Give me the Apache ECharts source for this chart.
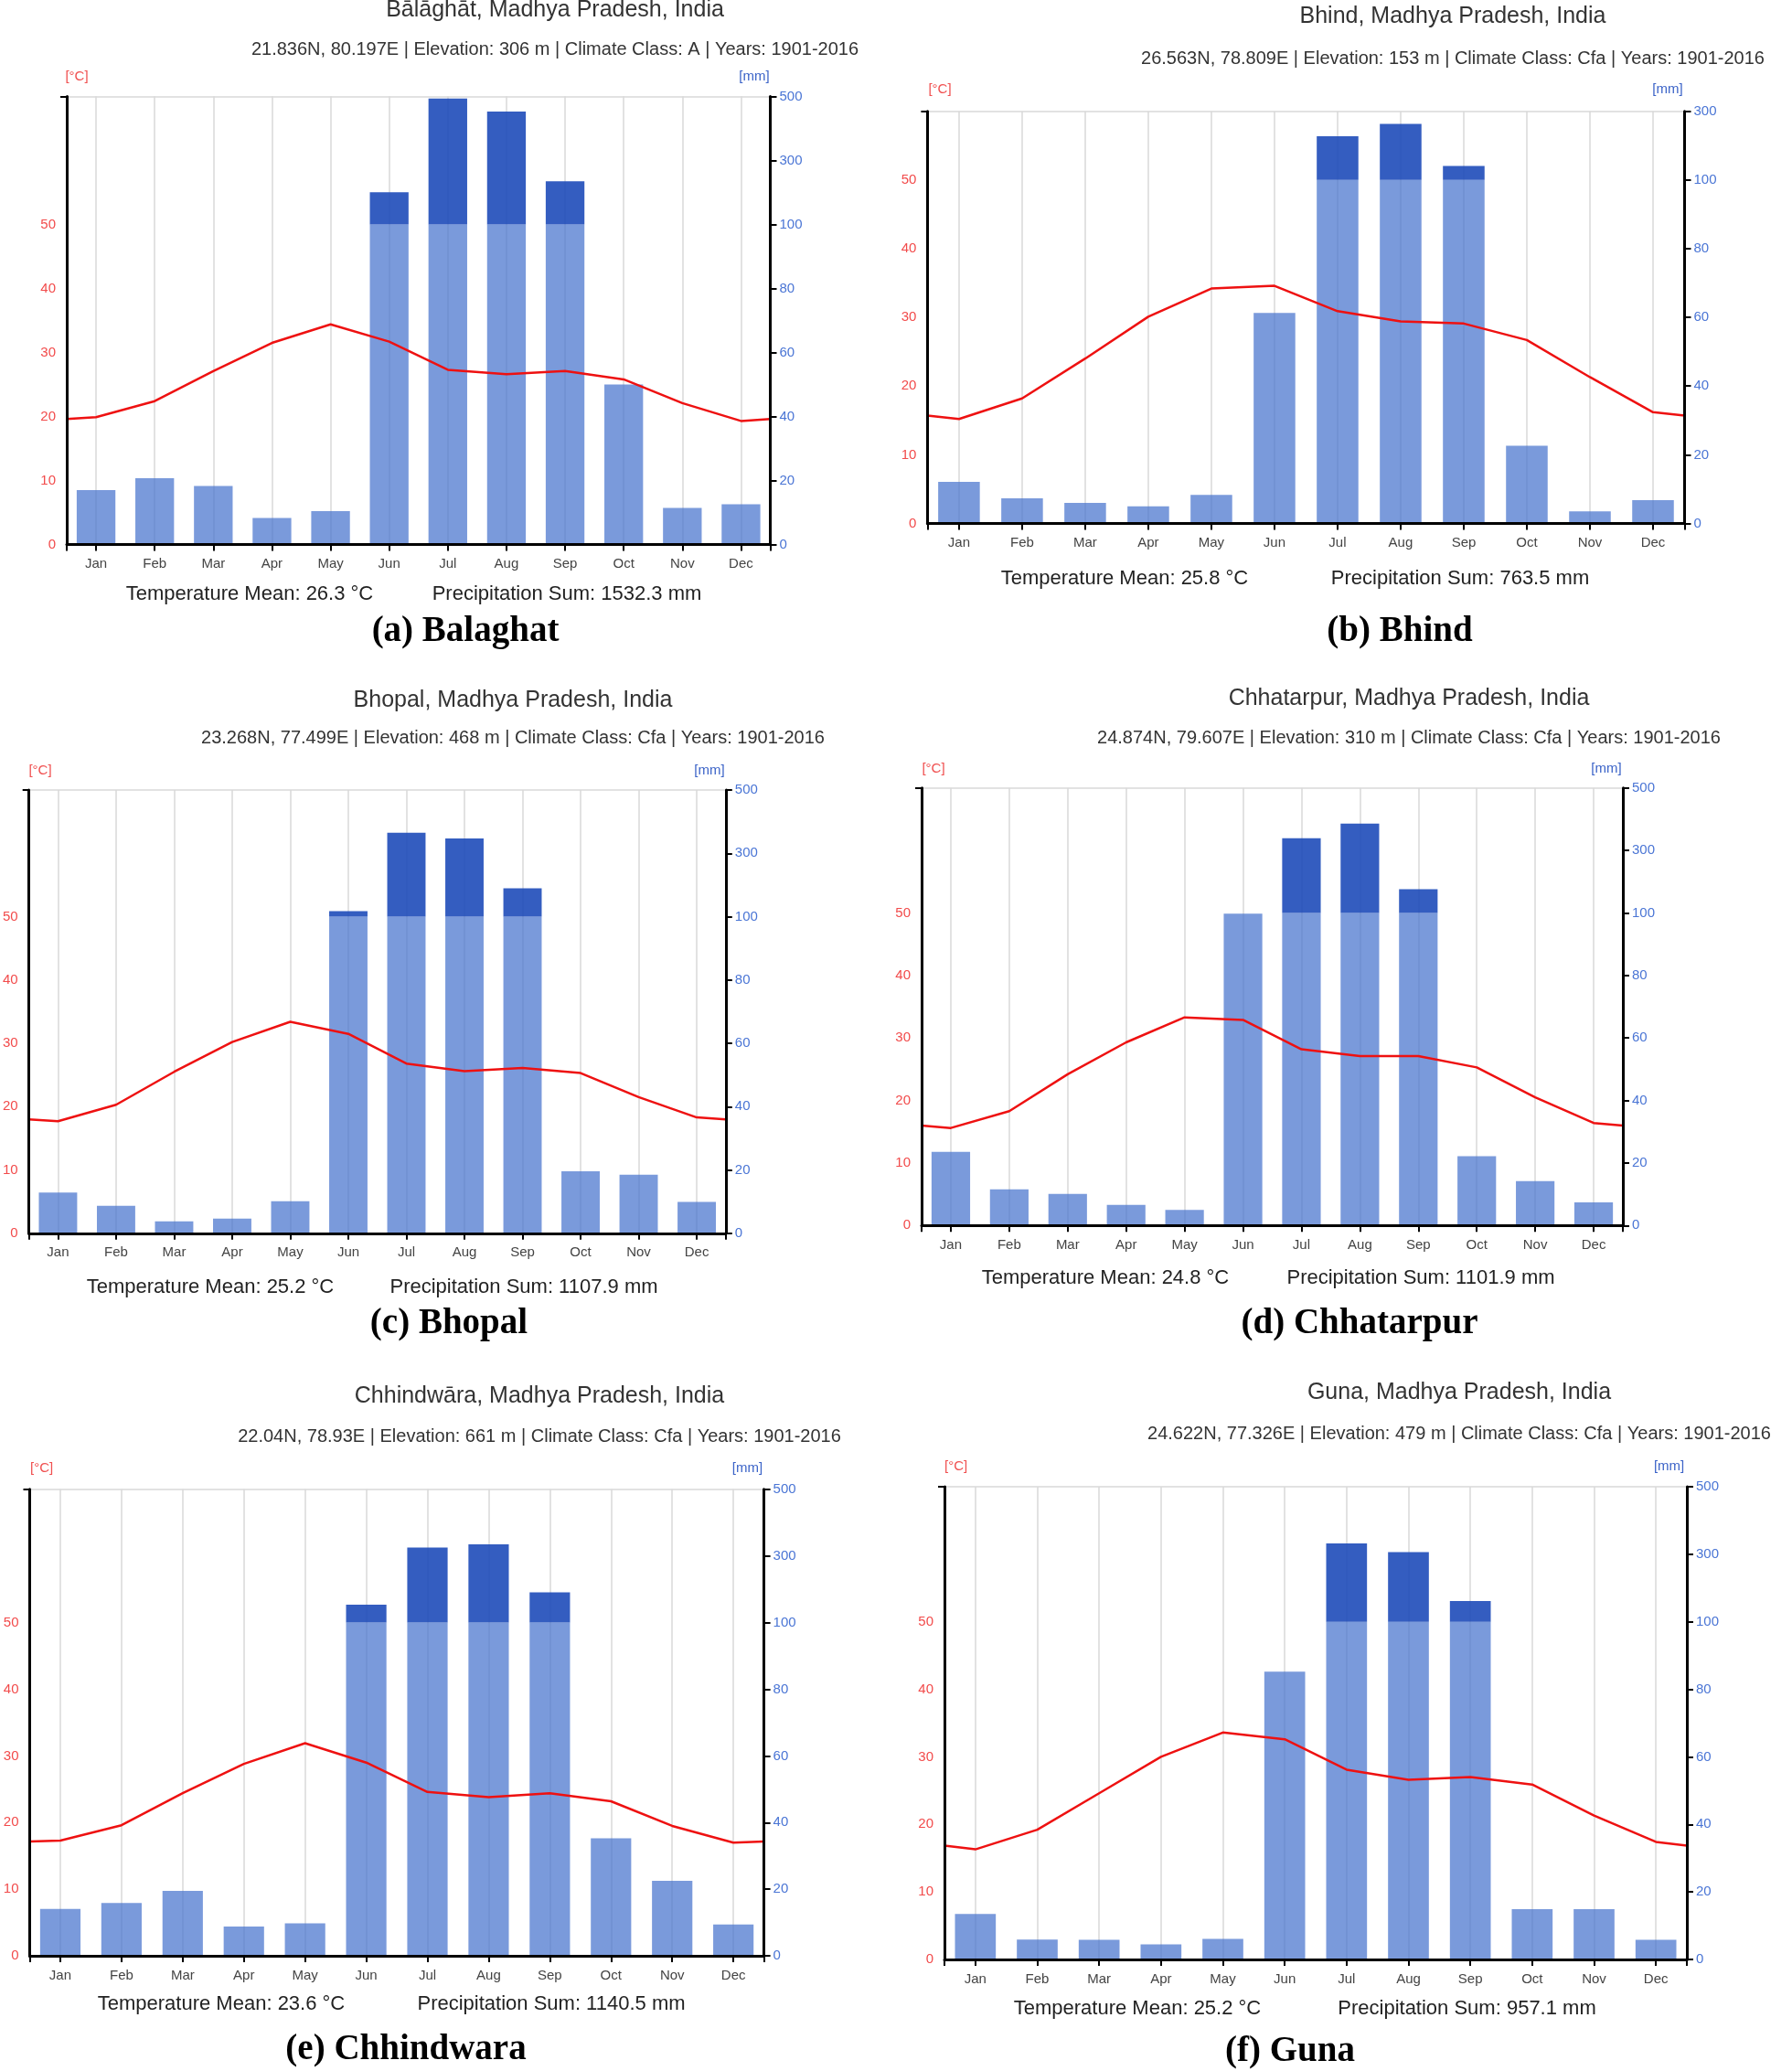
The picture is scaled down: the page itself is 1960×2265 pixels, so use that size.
<!DOCTYPE html>
<html>
<head>
<meta charset="utf-8">
<script src="https://cdn.jsdelivr.net/npm/echarts@6/dist/echarts.min.js"></script>
<style>
  html, body { margin: 0; padding: 0; background: #fff; }
  #chart { width: 1960px; height: 2265px; }
</style>
</head>
<body>
<div id="chart"></div>
<script>
const months = ['Jan', 'Feb', 'Mar', 'Apr', 'May', 'Jun', 'Jul', 'Aug', 'Sep', 'Oct', 'Nov', 'Dec'];
const tempTicks = [0, 10, 20, 30, 40, 50];

// monthly mean temperature (°C) and precipitation (mm)
const balaghatTemp = [19.9, 22.4, 27.1, 31.5, 34.4, 31.7, 27.3, 26.6, 27.1, 25.8, 22.1, 19.3];
const balaghatPrecip = [17.0, 20.7, 18.3, 8.3, 10.4, 201, 494, 453, 235.5, 50, 11.4, 12.6];
const bhindTemp = [15.2, 18.2, 24.0, 30.1, 34.2, 34.6, 30.9, 29.4, 29.1, 26.7, 21.3, 16.2];
const bhindPrecip = [12.1, 7.3, 6.0, 5.0, 8.3, 61.3, 227, 263, 140.5, 22.6, 3.5, 6.8];
const bhopalTemp = [17.7, 20.3, 25.5, 30.2, 33.4, 31.5, 26.8, 25.6, 26.1, 25.3, 21.5, 18.3];
const bhopalPrecip = [12.9, 8.7, 3.8, 4.6, 10.1, 117.7, 365, 347, 190, 19.6, 18.5, 9.9];
const chhatarpurTemp = [15.6, 18.3, 24.2, 29.3, 33.3, 32.9, 28.2, 27.1, 27.1, 25.3, 20.5, 16.4];
const chhatarpurPrecip = [23.6, 11.6, 10.1, 6.6, 5.0, 99.8, 339, 386, 176, 22.2, 14.2, 7.4];
const chhindwaraTemp = [17.3, 19.6, 24.4, 28.8, 31.9, 29.0, 24.6, 23.8, 24.4, 23.2, 19.5, 17.0];
const chhindwaraPrecip = [14.1, 15.9, 19.5, 8.8, 9.8, 154, 325, 335, 191, 35.3, 22.5, 9.4];
const gunaTemp = [16.3, 19.2, 24.6, 30.0, 33.6, 32.6, 28.1, 26.6, 27.0, 25.9, 21.3, 17.4];
const gunaPrecip = [13.5, 5.9, 5.8, 4.5, 6.1, 85.2, 332, 306, 161, 14.9, 14.9, 5.8];

const cities = [
  { title: 'Bālāghāt, Madhya Pradesh, India', sub: '21.836N, 80.197E | Elevation: 306 m | Climate Class: A | Years: 1901-2016',
    mean: 'Temperature Mean: 26.3 °C', sum: 'Precipitation Sum: 1532.3 mm', caption: '(a) Balaghat', maxMm: 500, temp: balaghatTemp, precip: balaghatPrecip },
  { title: 'Bhind, Madhya Pradesh, India', sub: '26.563N, 78.809E | Elevation: 153 m | Climate Class: Cfa | Years: 1901-2016',
    mean: 'Temperature Mean: 25.8 °C', sum: 'Precipitation Sum: 763.5 mm', caption: '(b) Bhind', maxMm: 300, temp: bhindTemp, precip: bhindPrecip },
  { title: 'Bhopal, Madhya Pradesh, India', sub: '23.268N, 77.499E | Elevation: 468 m | Climate Class: Cfa | Years: 1901-2016',
    mean: 'Temperature Mean: 25.2 °C', sum: 'Precipitation Sum: 1107.9 mm', caption: '(c) Bhopal', maxMm: 500, temp: bhopalTemp, precip: bhopalPrecip },
  { title: 'Chhatarpur, Madhya Pradesh, India', sub: '24.874N, 79.607E | Elevation: 310 m | Climate Class: Cfa | Years: 1901-2016',
    mean: 'Temperature Mean: 24.8 °C', sum: 'Precipitation Sum: 1101.9 mm', caption: '(d) Chhatarpur', maxMm: 500, temp: chhatarpurTemp, precip: chhatarpurPrecip },
  { title: 'Chhindwāra, Madhya Pradesh, India', sub: '22.04N, 78.93E | Elevation: 661 m | Climate Class: Cfa | Years: 1901-2016',
    mean: 'Temperature Mean: 23.6 °C', sum: 'Precipitation Sum: 1140.5 mm', caption: '(e) Chhindwara', maxMm: 500, temp: chhindwaraTemp, precip: chhindwaraPrecip },
  { title: 'Guna, Madhya Pradesh, India', sub: '24.622N, 77.326E | Elevation: 479 m | Climate Class: Cfa | Years: 1901-2016',
    mean: 'Temperature Mean: 25.2 °C', sum: 'Precipitation Sum: 957.1 mm', caption: '(f) Guna', maxMm: 500, temp: gunaTemp, precip: gunaPrecip }
];

// panel layout in page pixels: plot box, text centres
const panels = [
  { l: 73, r: 842.5, t: 105.6, b: 595.5, cx: 607, ty: 11, sy: 54, cL: 84, cR: 825, uy: 84, sty: 650, mx: 273, px: 620, capx: 509, capy: 691 },
  { l: 1014.4, r: 1842.5, t: 121.7, b: 572.5, cx: 1589, ty: 18.4, sy: 64.3, cL: 1028, cR: 1824, uy: 97.8, sty: 632.7, mx: 1230, px: 1597, capx: 1531, capy: 691 },
  { l: 28.1, r: 793.8, t: 864.1, b: 1348.8, cx: 561, ty: 766, sy: 807.5, cL: 44, cR: 776, uy: 842.4, sty: 1407.8, mx: 230, px: 573, capx: 491, capy: 1448 },
  { l: 1008, r: 1775, t: 861.8, b: 1340.3, cx: 1541, ty: 764.5, sy: 807, cL: 1021, cR: 1757, uy: 841, sty: 1398.3, mx: 1209, px: 1554, capx: 1487, capy: 1448 },
  { l: 32.5, r: 835.6, t: 1628.8, b: 2139.1, cx: 590, ty: 1526.8, sy: 1571.7, cL: 45.6, cR: 817.5, uy: 1605.9, sty: 2191.8, mx: 242, px: 603, capx: 444, capy: 2241.5 },
  { l: 1033, r: 1845, t: 1625.9, b: 2143, cx: 1596, ty: 1522.9, sy: 1568.3, cL: 1045.6, cR: 1825.6, uy: 1603.9, sty: 2196.6, mx: 1244, px: 1604.5, capx: 1411, capy: 2244 }
];

const SANS = '"Liberation Sans", Arial, sans-serif';
const SERIF = '"Liberation Serif", "Times New Roman", serif';
const GRID_LINE = { color: '#d8d8d8', width: 1.5 };
const AXIS_BLACK = { color: '#000', width: 3 };
const TICK_BLACK = { color: '#000', width: 2 };

// above 100 mm the precipitation scale is compressed 1:10
const toDisp = mm => mm <= 100 ? mm : 100 + (mm - 100) / 10;
const toMm = d => d <= 100 ? d : 100 + (d - 100) * 10;

const grid = [], xAxis = [], yAxis = [], series = [], graphic = [];

cities.forEach((c, i) => {
  const p = panels[i];
  const dispMax = toDisp(c.maxMm);
  const edge = (c.temp[0] + c.temp[11]) / 2;

  grid.push({ left: p.l, top: p.t, width: p.r - p.l, height: p.b - p.t });

  xAxis.push({
    type: 'category', gridIndex: i, data: months, boundaryGap: true, position: 'bottom',
    axisLine: { show: false },
    axisTick: { show: true, alignWithLabel: true, length: 7, lineStyle: TICK_BLACK },
    axisLabel: { color: '#444', fontSize: 15, fontFamily: SANS, margin: 14 },
    splitLine: { show: true, alignWithLabel: true, lineStyle: GRID_LINE }
  });
  xAxis.push({
    type: 'value', gridIndex: i, min: 0, max: 12, interval: 12, position: 'bottom', z: 10,
    axisLine: { show: true, lineStyle: AXIS_BLACK },
    axisTick: { show: true, length: 7, lineStyle: TICK_BLACK },
    axisLabel: { show: false },
    splitLine: { show: false }
  });

  yAxis.push({
    type: 'value', gridIndex: i, position: 'left', min: 0, max: dispMax / 2, interval: 10, z: 10,
    axisLine: { show: true, lineStyle: AXIS_BLACK },
    axisTick: { show: true, customValues: [dispMax / 2], length: 7, lineStyle: TICK_BLACK },
    axisLabel: { customValues: tempTicks, color: '#f24b4b', fontSize: 15, fontFamily: SANS, margin: 12 },
    splitLine: { show: true, lineStyle: GRID_LINE }
  });
  yAxis.push({
    type: 'value', gridIndex: i, position: 'right', min: 0, max: dispMax, interval: 20, z: 10,
    axisLine: { show: true, lineStyle: AXIS_BLACK },
    axisTick: { show: true, length: 7, lineStyle: TICK_BLACK },
    axisLabel: { color: '#4a75d5', fontSize: 15, fontFamily: SANS, margin: 10, formatter: v => toMm(v) },
    splitLine: { show: false }
  });

  series.push({
    type: 'bar', xAxisIndex: 2 * i, yAxisIndex: 2 * i + 1, stack: 'p' + i, barWidth: '66%',
    itemStyle: { color: 'rgba(70,115,205,0.72)' },
    data: c.precip.map(v => Math.min(v, 100))
  });
  series.push({
    type: 'bar', xAxisIndex: 2 * i, yAxisIndex: 2 * i + 1, stack: 'p' + i, barWidth: '66%',
    itemStyle: { color: 'rgba(30,75,185,0.9)' },
    data: c.precip.map(v => v > 100 ? toDisp(v) - 100 : 0)
  });
  series.push({
    type: 'line', xAxisIndex: 2 * i + 1, yAxisIndex: 2 * i, showSymbol: false, z: 5,
    lineStyle: { color: '#ee1111', width: 2.5 },
    data: [[0, edge]].concat(c.temp.map((t, k) => [k + 0.5, t]), [[12, edge]])
  });

  const txt = (x, y, text, font, fill) => graphic.push({
    type: 'text', x, y,
    style: { text, font, fill, align: 'center', verticalAlign: 'middle' }
  });
  txt(p.cx, p.ty, c.title, '25px ' + SANS, '#333');
  txt(p.cx, p.sy, c.sub, '20px ' + SANS, '#333');
  txt(p.cL, p.uy, '[°C]', '15px ' + SANS, '#f05050');
  txt(p.cR, p.uy, '[mm]', '15px ' + SANS, '#3c64c8');
  txt(p.mx, p.sty, c.mean, '22px ' + SANS, '#222');
  txt(p.px, p.sty, c.sum, '22px ' + SANS, '#222');
  txt(p.capx, p.capy, c.caption, 'bold 39px ' + SERIF, '#000');
});

const chart = echarts.init(document.getElementById('chart'));
chart.setOption({ animation: false, grid, xAxis, yAxis, series, graphic });
</script>
</body>
</html>
